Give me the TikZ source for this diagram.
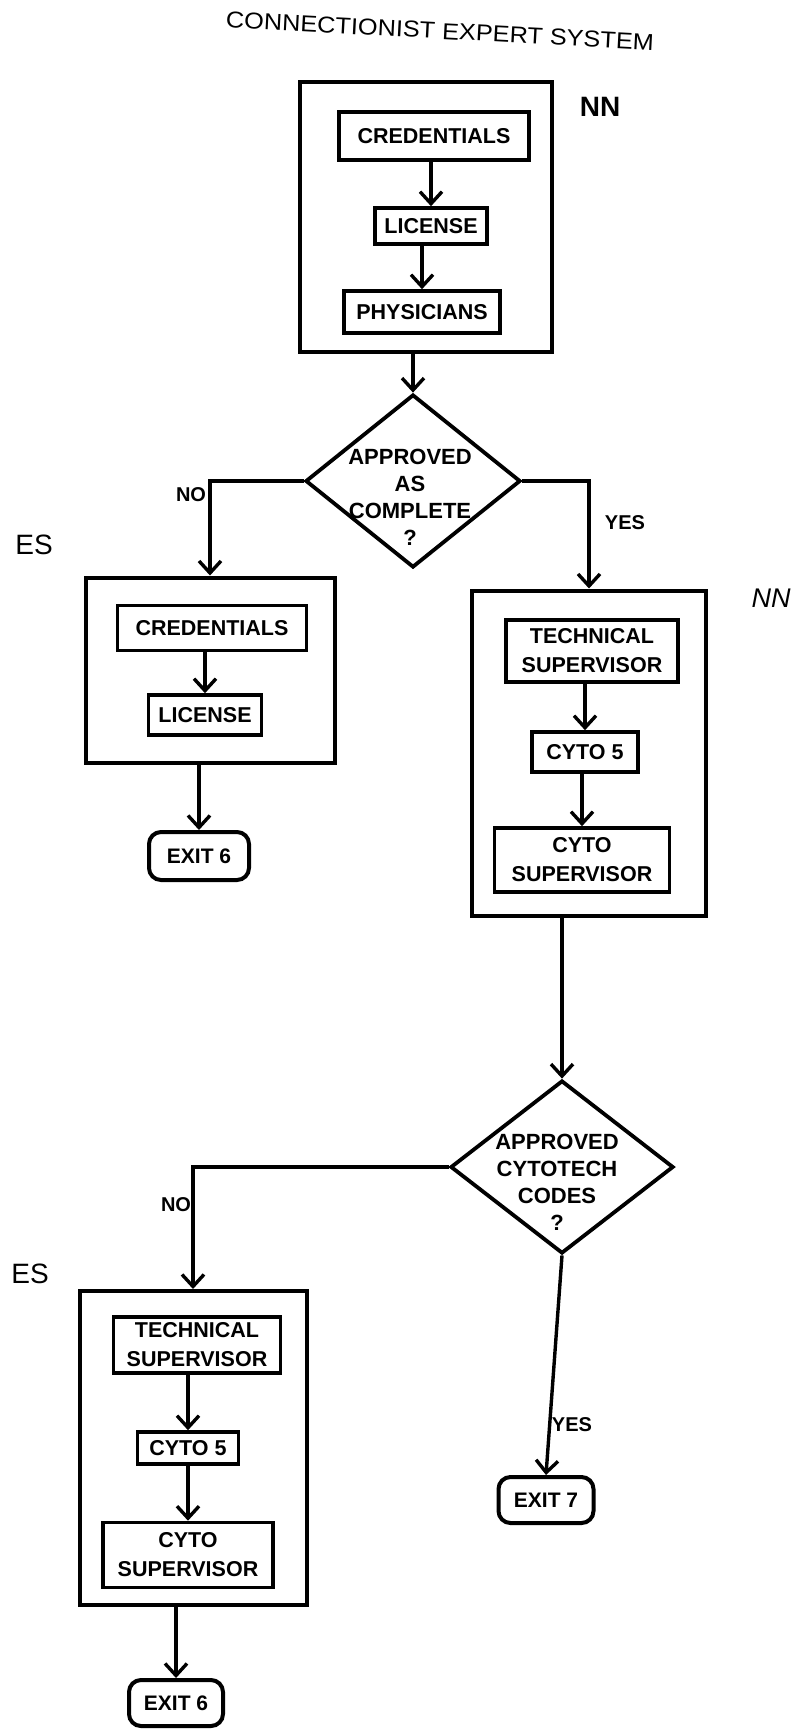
\documentclass[tikz,border=0pt]{standalone}
\usepackage{fontspec}
\setmainfont{Liberation Sans}
\usepackage{graphicx}
\usetikzlibrary{shapes.geometric,arrows.meta}

\tikzset{
  frame/.style={draw, line width=4pt, inner sep=0pt},
  stepbox/.style={draw, line width=3.6pt, inner sep=0pt, align=center,
    font=\fontsize{21.5}{29}\selectfont\bfseries},
  decision/.style={draw, diamond, line width=3.8pt, inner sep=0pt},
  dtext/.style={align=center, inner sep=0pt,
    font=\fontsize{22}{27}\selectfont\bfseries},
  exitbox/.style={draw, rounded corners=12pt, line width=4pt, inner sep=0pt,
    font=\fontsize{21}{22}\selectfont\bfseries},
  branch/.style={inner sep=0pt, font=\fontsize{20}{22}\selectfont\bfseries},
  sidetag/.style={inner sep=0pt, font=\fontsize{28}{30}\selectfont},
  nntag/.style={inner sep=0pt, font=\fontsize{28}{30}\selectfont\bfseries},
  nnitag/.style={inner sep=0pt, font=\fontsize{27}{30}\selectfont\itshape},
  flow/.style={line width=3.4pt, -{Straight Barb[length=12pt,width=22pt]}},
}

\begin{document}
\begin{tikzpicture}[x=1pt,y=-1pt]
\useasboundingbox (0,0) rectangle (803,1729);

% heading
\node[inner sep=0pt, rotate=-3, font=\fontsize{23}{26}\selectfont] (title) at (440,31)
  {\scalebox{1.1}[1]{CONNECTIONIST EXPERT SYSTEM}};

% upper neural-network block
\node[frame, minimum width=252, minimum height=270] (nnA) at (426,217) {};
\node[nntag] (nnAlab) at (600,107) {NN};
\node[stepbox, minimum width=190, minimum height=48] (credA) at (434,136) {CREDENTIALS};
\node[stepbox, minimum width=112, minimum height=36] (licA) at (431,226) {LICENSE};
\node[stepbox, minimum width=156, minimum height=42] (phyA) at (422,312) {PHYSICIANS};

% first decision
\node[decision, minimum width=215, minimum height=173] (dA) at (413,481) {};
\node[dtext] (dAt) at (410,497) {APPROVED\\AS\\COMPLETE\\?};
\node[branch] (noA) at (191,495) {NO};
\node[branch] (yesA) at (625,523) {YES};

% left expert-system block
\node[sidetag] (esA) at (34,545) {ES};
\node[frame, minimum width=249, minimum height=185] (esBoxA) at (210,670) {};
\node[stepbox, minimum width=189, minimum height=45] (credB) at (212,628) {CREDENTIALS};
\node[stepbox, minimum width=113, minimum height=40] (licB) at (205,715) {LICENSE};
\node[exitbox, minimum width=100, minimum height=48] (exitA) at (199,856) {EXIT 6};

% right neural-network block
\node[nnitag] (nnBlab) at (771,598) {NN};
\node[frame, minimum width=234, minimum height=325] (nnB) at (589,753) {};
\node[stepbox, minimum width=172, minimum height=62] (techB) at (592,651) {TECHNICAL\\SUPERVISOR};
\node[stepbox, minimum width=106, minimum height=40] (cytoB) at (585,752) {CYTO 5};
\node[stepbox, minimum width=175, minimum height=64] (csupB) at (582,860) {CYTO\\SUPERVISOR};

% second decision
\node[decision, minimum width=223, minimum height=173] (dB) at (562,1167) {};
\node[dtext] (dBt) at (557,1182) {APPROVED\\CYTOTECH\\CODES\\?};
\node[branch] (noB) at (176,1205) {NO};
\node[branch] (yesB) at (572,1425) {YES};
\node[exitbox, minimum width=95, minimum height=46] (exitB) at (546,1500) {EXIT 7};

% lower expert-system block
\node[sidetag] (esB) at (30,1274) {ES};
\node[frame, minimum width=227, minimum height=314] (esBoxB) at (193,1448) {};
\node[stepbox, minimum width=167, minimum height=56] (techC) at (197,1345) {TECHNICAL\\SUPERVISOR};
\node[stepbox, minimum width=101, minimum height=32] (cytoC) at (188,1448) {CYTO 5};
\node[stepbox, minimum width=170, minimum height=65] (csupC) at (188,1555) {CYTO\\SUPERVISOR};
\node[exitbox, minimum width=94, minimum height=46] (exitC) at (176,1703) {EXIT 6};

% connectors
\draw[flow] (licA.north |- credA.south) -- (licA.north);
\draw[flow] (phyA.north |- licA.south) -- (phyA.north);
\draw[flow] (dA.north |- nnA.south) -- (dA.north);
\draw[flow] (dA.west) -| (esBoxA.north);
\draw[flow] (dA.east) -| (nnB.north);
\draw[flow] (licB.north |- credB.south) -- (licB.north);
\draw[flow] (exitA.north |- esBoxA.south) -- (exitA.north);
\draw[flow] (cytoB.north |- techB.south) -- (cytoB.north);
\draw[flow] (csupB.north |- cytoB.south) -- (csupB.north);
\draw[flow] (dB.north |- nnB.south) -- (dB.north);
\draw[flow] (dB.west) -| (esBoxB.north);
\draw[flow] (dB.south) -- (exitB.north);
\draw[flow] (cytoC.north |- techC.south) -- (cytoC.north);
\draw[flow] (csupC.north |- cytoC.south) -- (csupC.north);
\draw[flow] (exitC.north |- esBoxB.south) -- (exitC.north);
\end{tikzpicture}
\end{document}
